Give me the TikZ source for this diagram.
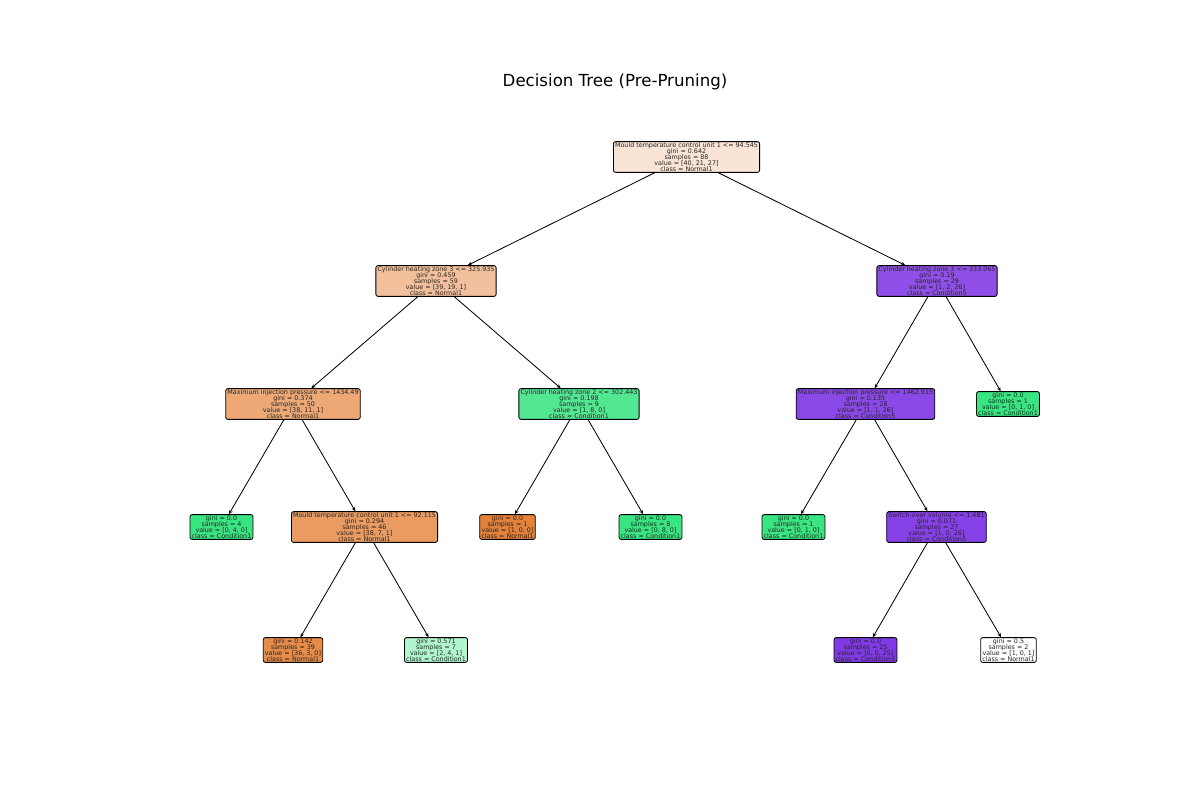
\documentclass[tikz,border=0pt]{standalone}
\usepackage{fontspec}
\setmainfont{DejaVu Sans}
\usetikzlibrary{arrows.meta}
\newcommand{\treefnt}{\fontsize{4.6}{4.25}\selectfont\lineskiplimit=-10pt\relax}
\definecolor{cRoot}{RGB}{249,228,213}
\definecolor{cA}{RGB}{242,192,156}
\definecolor{cB}{RGB}{143,79,232}
\definecolor{cC}{RGB}{237,168,118}
\definecolor{cD}{RGB}{82,232,145}
\definecolor{cE}{RGB}{138,72,231}
\definecolor{cF}{RGB}{234,155,97}
\definecolor{cG}{RGB}{134,65,230}
\definecolor{cH}{RGB}{231,139,72}
\definecolor{cI}{RGB}{176,245,205}
\definecolor{cOr}{RGB}{229,129,57}
\definecolor{cGr}{RGB}{57,229,129}
\definecolor{cPu}{RGB}{129,57,229}
\begin{document}
\begin{tikzpicture}[x=0.01in,y=-0.01in,
  tn/.style={draw=black, line width=0.6pt, rounded corners=1.5pt, align=center,
    font=\treefnt, inner xsep=1.2pt, inner ysep=0.8pt, text=black!85},
  edge/.style={-{Stealth[length=3pt,width=2.6pt]}, line width=0.6pt}]
\useasboundingbox (0,0) rectangle (1200,800);
\node[font=\fontsize{12}{14}\selectfont] (title) at (615,82) {Decision Tree (Pre-Pruning)};

\node[tn, fill=cRoot] (n0) at (686.5,157) {Mould temperature control unit 1 <= 94.545\\gini = 0.642\\samples = 88\\value = [40, 21, 27]\\class = Normal1};
\node[tn, fill=cA] (n1) at (436,281) {Cylinder heating zone 3 <= 325.935\\gini = 0.459\\samples = 59\\value = [39, 19, 1]\\class = Normal1};
\node[tn, fill=cB] (n2) at (937,281) {Cylinder heating zone 3 <= 333.065\\gini = 0.19\\samples = 29\\value = [1, 2, 26]\\class = Condition5};

\node[tn, fill=cC] (n3) at (293,404) {Maximum injection pressure <= 1434.49\\gini = 0.374\\samples = 50\\value = [38, 11, 1]\\class = Normal1};
\node[tn, fill=cD] (n4) at (579,404) {Cylinder heating zone 2 <= 302.443\\gini = 0.198\\samples = 9\\value = [1, 8, 0]\\class = Condition1};
\node[tn, fill=cE] (n5) at (865.5,404) {Maximum injection pressure <= 1462.915\\gini = 0.135\\samples = 28\\value = [1, 1, 26]\\class = Condition5};
\node[tn, fill=cGr] (n6) at (1008,404) {gini = 0.0\\samples = 1\\value = [0, 1, 0]\\class = Condition1};

\node[tn, fill=cGr] (n7) at (221.5,527) {gini = 0.0\\samples = 4\\value = [0, 4, 0]\\class = Condition1};
\node[tn, fill=cF] (n8) at (364.5,527) {Mould temperature control unit 1 <= 92.115\\gini = 0.294\\samples = 46\\value = [38, 7, 1]\\class = Normal1};
\node[tn, fill=cOr] (n9) at (507.5,527) {gini = 0.0\\samples = 1\\value = [1, 0, 0]\\class = Normal1};
\node[tn, fill=cGr] (n10) at (650.5,527) {gini = 0.0\\samples = 8\\value = [0, 8, 0]\\class = Condition1};
\node[tn, fill=cGr] (n11) at (793.5,527) {gini = 0.0\\samples = 1\\value = [0, 1, 0]\\class = Condition1};
\node[tn, fill=cG] (n12) at (936.5,527) {Switch-over volume <= 1.481\\gini = 0.071\\samples = 27\\value = [1, 0, 26]\\class = Condition5};

\node[tn, fill=cH] (n13) at (293,650) {gini = 0.142\\samples = 39\\value = [36, 3, 0]\\class = Normal1};
\node[tn, fill=cI] (n14) at (436,650) {gini = 0.571\\samples = 7\\value = [2, 4, 1]\\class = Condition1};
\node[tn, fill=cPu] (n15) at (865.5,650) {gini = 0.0\\samples = 25\\value = [0, 0, 25]\\class = Condition5};
\node[tn, fill=white] (n16) at (1008.5,650) {gini = 0.5\\samples = 2\\value = [1, 0, 1]\\class = Normal1};

\draw[edge] (n0) -- (n1);
\draw[edge] (n0) -- (n2);
\draw[edge] (n1) -- (n3);
\draw[edge] (n1) -- (n4);
\draw[edge] (n2) -- (n5);
\draw[edge] (n2) -- (n6);
\draw[edge] (n3) -- (n7);
\draw[edge] (n3) -- (n8);
\draw[edge] (n4) -- (n9);
\draw[edge] (n4) -- (n10);
\draw[edge] (n5) -- (n11);
\draw[edge] (n5) -- (n12);
\draw[edge] (n8) -- (n13);
\draw[edge] (n8) -- (n14);
\draw[edge] (n12) -- (n15);
\draw[edge] (n12) -- (n16);
\end{tikzpicture}
\end{document}
